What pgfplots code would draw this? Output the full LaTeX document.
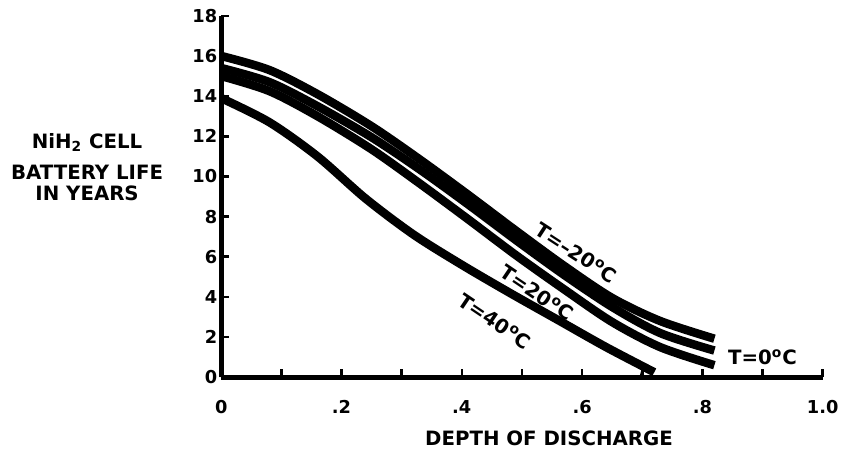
\documentclass[border=0pt]{standalone}
\usepackage{fontspec}
\setmainfont{DejaVu Sans}
\usepackage{pgfplots}
\pgfplotsset{compat=1.18}
\begin{document}
\begin{tikzpicture}
\begin{axis}[
  name=ax, scale only axis, width=304.5pt, height=183pt,
  xmin=0, xmax=1, ymin=0, ymax=18,
  axis x line*=bottom, axis y line*=left,
  axis line style={-, line width=2.4pt},
  xtick={0,0.2,0.4,0.6,0.8,1.0}, xticklabels={0,.2,.4,.6,.8,1.0},
  minor xtick={0.1,0.3,0.5,0.7,0.9},
  ytick={0,2,4,6,8,10,12,14,16,18},
  tick align=inside, major tick length=4pt, minor tick length=4pt,
  every tick/.style={black, line width=1.3pt},
  ticklabel style={font=\bfseries\fontsize{9}{10}\selectfont},
  /pgf/number format/assume math mode=true,
  xticklabel style={yshift=-8pt},
  yticklabel style={xshift=1.5pt},
  clip=false,
]
% T = -20 C
\addplot[black, line width=4.3pt, smooth] coordinates {
 (0,16.0) (0.08,15.3) (0.16,14.1) (0.25,12.5) (0.33,10.85) (0.41,9.1)
 (0.49,7.3) (0.57,5.55) (0.65,3.95) (0.73,2.8) (0.82,1.92)};
% T = 0 C
\addplot[black, line width=4.3pt, smooth] coordinates {
 (0,15.4) (0.08,14.7) (0.16,13.5) (0.25,11.95) (0.33,10.35) (0.41,8.62)
 (0.49,6.83) (0.57,5.1) (0.65,3.5) (0.73,2.2) (0.82,1.33)};
% T = 20 C
\addplot[black, line width=4.3pt, smooth] coordinates {
 (0,15.0) (0.08,14.25) (0.16,13.0) (0.25,11.35) (0.33,9.65) (0.41,7.88)
 (0.49,6.08) (0.57,4.38) (0.65,2.75) (0.73,1.5) (0.82,0.6)};
% T = 40 C
\addplot[black, line width=4.3pt, smooth] coordinates {
 (0,13.9) (0.08,12.7) (0.16,11.0) (0.24,8.9) (0.32,7.1) (0.40,5.6)
 (0.48,4.2) (0.56,2.85) (0.64,1.5) (0.72,0.25)};
\addplot[black, line width=1.5pt] coordinates {(0.698,0) (0.702,0.5)};

\node[rotate=-33, font=\bfseries] at (axis cs:0.59,6.2) {T=--20\textsuperscript{o}C};
\node[rotate=-34, font=\bfseries] at (axis cs:0.525,4.2) {T=20\textsuperscript{o}C};
\node[rotate=-34, font=\bfseries] at (axis cs:0.455,2.8) {T=40\textsuperscript{o}C};
\node[font=\bfseries] at (axis cs:0.90,1.0) {T=0\textsuperscript{o}C};

\node[font=\bfseries, anchor=base] at (axis cs:-0.223,11.41) {NiH\textsubscript{2} CELL};
\node[font=\bfseries, anchor=base] at (axis cs:-0.223,9.84) {BATTERY LIFE};
\node[font=\bfseries, anchor=base] at (axis cs:-0.223,8.8) {IN YEARS};
\node[font=\bfseries] at (axis cs:0.545,0) [yshift=-31pt] {DEPTH OF DISCHARGE};
\end{axis}
\path ([shift={(-112pt,-36pt)}]ax.south west) rectangle ([shift={(6pt,8pt)}]ax.north east);
\end{tikzpicture}
\end{document}
